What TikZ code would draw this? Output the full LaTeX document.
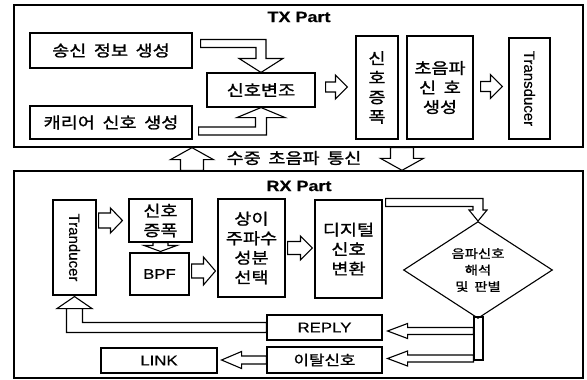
\documentclass[tikz,border=0pt]{standalone}
\usepackage{fontspec}
\setmainfont{Liberation Sans}[FakeStretch=1.2,FakeBold=0.4]
\newfontfamily\kr{Noto Sans CJK KR}[FakeStretch=1.2,FakeBold=1.2,WordSpace=1.8]
\newfontfamily\upr{Liberation Sans}[FakeBold=0.4]
\usetikzlibrary{calc,shapes.geometric}

\begin{document}
\begin{tikzpicture}[x=1pt,y=-1pt,
  frame/.style={draw,line width=1.3pt,inner sep=0pt},
  box/.style={draw,line width=1.1pt,inner sep=0pt,align=center,font=\kr\fontsize{15.5}{19.5}\selectfont},
  en/.style={font=\fontsize{14}{16}\selectfont},
  ttl/.style={font=\bfseries\fontsize{15}{17}\selectfont},
  vt/.style={font=\upr\fontsize{15}{17}\selectfont},
  blk/.style args={#1/#2/#3}{line width=1.1pt,to path={let \p1=(\tikztostart),\p2=(\tikztotarget),
    \n1={veclen(\x2-\x1,\y2-\y1)},\n2={(\x2-\x1)/\n1},\n3={(\y2-\y1)/\n1} in
    ({\x1-(\n3)*#1},{\y1+(\n2)*#1}) -- ({\x2-(\n2)*#3-(\n3)*#1},{\y2-(\n3)*#3+(\n2)*#1})
    -- ({\x2-(\n2)*#3-(\n3)*#2},{\y2-(\n3)*#3+(\n2)*#2}) -- (\x2,\y2)
    -- ({\x2-(\n2)*#3+(\n3)*#2},{\y2-(\n3)*#3-(\n2)*#2})
    -- ({\x2-(\n2)*#3+(\n3)*#1},{\y2-(\n3)*#3-(\n2)*#1})
    -- ({\x1+(\n3)*#1},{\y1-(\n2)*#1}) -- cycle}},
  elb/.style args={#1/#2/#3/#4}{line width=1.1pt,to path={let \p1=(\tikztostart),\p2=(\tikztotarget),
    \n1={sign(\x2-\x1)},\n2={sign(\y2-\y1)} in
    (\x1,{\y1-(\n2)*#1}) -- ({\x2+(\n1)*#2},{\y1-(\n2)*#1}) -- ({\x2+(\n1)*#2},{\y2-(\n2)*#4})
    -- ({\x2+#3},{\y2-(\n2)*#4}) -- (\x2,\y2) -- ({\x2-#3},{\y2-(\n2)*#4})
    -- ({\x2-(\n1)*#2},{\y2-(\n2)*#4}) -- ({\x2-(\n1)*#2},{\y1+(\n2)*#1})
    -- (\x1,{\y1+(\n2)*#1}) -- cycle}}]

\useasboundingbox (0,0) rectangle (587,380);

% TX part
\node[frame,minimum width=569pt,minimum height=142pt] (tx) at (298.5,76) {};
\node[ttl] (txt) at (299,17) {TX Part};
\node[box,minimum width=162pt,minimum height=35pt] (info) at (111,50.5) {송신 정보 생성};
\node[box,minimum width=162pt,minimum height=33pt] (carr) at (111,122.5) {캐리어 신호 생성};
\node[box,minimum width=108pt,minimum height=34pt] (mod) at (261,90) {신호변조};
\node[box,minimum width=42pt,minimum height=103pt] (amp) at (377,87.5) {신\\호\\증\\폭};
\node[box,minimum width=66pt,minimum height=103pt] (ugen) at (440,87.5) {초음파\\신 호\\생성};
\node[box,vt,minimum width=41pt,minimum height=101pt] (txd) at (529.5,88.5) {\rotatebox{-90}{Transducer}};

\draw[elb=4/5/22/14] ([xshift=8pt,yshift=7pt]info.east) to (mod.north);
\draw[elb=4/5.5/24/10] ([xshift=6pt,yshift=-8.5pt]carr.east) to (mod.south);
\draw[blk=5/12/12] ([xshift=10pt,yshift=3pt]mod.east) to ([xshift=-8pt,yshift=3pt]mod.east -| amp.west);
\draw[blk=5/12/12] ([xshift=7pt,yshift=1pt]ugen.east) to ([xshift=-6pt,yshift=1pt]ugen.east -| txd.west);

% between the parts
\node[box,draw=none] (comm) at (294,158) {수중 초음파 통신};

% RX part
\node[frame,minimum width=569pt,minimum height=207pt] (rx) at (298.5,274.5) {};
\node[ttl] (rxt) at (299,186) {RX Part};
\node[box,vt,minimum width=43pt,minimum height=95pt] (rxd) at (74.5,247.5) {\rotatebox{-90}{Tranducer}};
\node[box,minimum width=63pt,minimum height=43pt] (ramp) at (160.5,220.5) {신호\\증폭};
\node[box,en,minimum width=59pt,minimum height=42pt] (bpf) at (159.5,274) {BPF};
\node[box,minimum width=67pt,minimum height=98pt] (sel) at (251.5,248) {상이\\주파수\\성분\\선택};
\node[box,minimum width=67pt,minimum height=98pt] (dig) at (348.5,249) {디지털\\신호\\변환};
\node[box,diamond,minimum width=149pt,minimum height=94pt,font=\kr\fontsize{12}{16.5}\selectfont] (dec) at (478,270) {음파신호\\해석\\및 판별};
\node[box,minimum width=9pt,minimum height=43pt] (bar) at (478.5,338.5) {};
\node[box,en,minimum width=115pt,minimum height=25pt] (reply) at (324.5,327.5) {REPLY};
\node[box,minimum width=115pt,minimum height=26pt,font=\kr\fontsize{14}{16}\selectfont] (exit) at (324.5,360) {이탈신호};
\node[box,en,minimum width=116pt,minimum height=25pt] (link) at (159,360.5) {LINK};

\draw[blk=11.5/21.5/12] ([xshift=-106.5pt]rx.north) to ([xshift=-106.5pt]tx.south);
\draw[blk=11.5/21.5/12] ([xshift=103.5pt]tx.south) to ([xshift=103.5pt]rx.north);

\draw[blk=7.5/12.5/12] ([xshift=2pt]rxd.east |- ramp.west) to ([xshift=-6pt]ramp.west);
\draw[blk=7.5/16.5/6] (ramp.south) to ([yshift=1pt]ramp.south |- bpf.north);
\draw[blk=7/14/12] ([xshift=2pt,yshift=3pt]bpf.east) to ([xshift=-2pt,yshift=3pt]bpf.east -| sel.west);
\draw[blk=6.5/12/12] ([xshift=2pt]sel.east) to ([xshift=-2pt]sel.east -| dig.west);
\draw[elb=4/5/9/11] ([xshift=3pt,yshift=-3pt]dig.north east) to (dec.north);
\draw[blk=3.5/7.5/20] ([yshift=7.5pt]bar.west) to ([xshift=5pt,yshift=7.5pt]bar.west -| reply.east);
\draw[blk=3.5/7.5/20] ([yshift=-20pt]bar.west) to ([xshift=5pt,yshift=-20pt]bar.west -| exit.east);
\draw[blk=4/8.5/20] (exit.west) to ([xshift=4pt]exit.west -| link.east);
\draw[elb=5/8/17.5/12] (reply.west) to ([yshift=-1pt]rxd.south);
\end{tikzpicture}
\end{document}
